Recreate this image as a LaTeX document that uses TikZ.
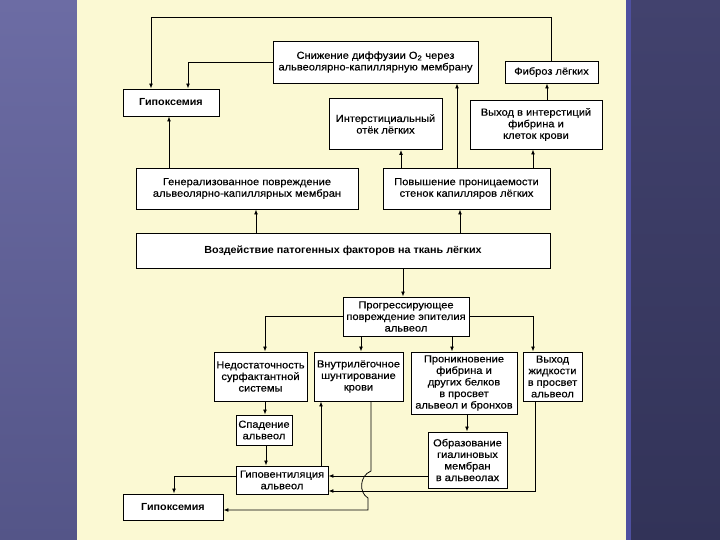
\documentclass[tikz,border=0pt]{standalone}
\usepackage{fontspec}
\setmainfont{Liberation Sans}
\newfontfamily\boxfont[FakeStretch=1.08,FakeBold=0.35]{Liberation Sans}
\newfontfamily\boxfontbold[FakeStretch=1.05]{Liberation Sans Bold}
\usetikzlibrary{arrows.meta}
\definecolor{panel}{RGB}{251,249,211}
\definecolor{bgleftT}{RGB}{108,108,164}
\definecolor{bgleftB}{RGB}{84,85,136}
\definecolor{bgrightT}{RGB}{66,66,110}
\definecolor{bgrightB}{RGB}{50,51,88}
\definecolor{stripe}{RGB}{78,80,160}
\tikzset{
  box/.style={draw=black, line width=0.9pt, fill=white, inner sep=0pt, align=center,
    font=\boxfont\fontsize{10.3}{11.6}\selectfont},
  hbox/.style={box, font=\boxfontbold\fontsize{10.3}{11.6}\selectfont},
  conn/.style={line width=0.75pt, -{Latex[length=5pt,width=3.8pt]}},
}
\begin{document}
\begin{tikzpicture}[x=1bp,y=-1bp]
\useasboundingbox (0,0) rectangle (720,540);
% background
\shade[top color=bgleftT, bottom color=bgleftB] (0,0) rectangle (78,540);
\shade[top color=bgrightT, bottom color=bgrightB] (626,0) rectangle (720,540);
\fill[stripe] (626,0) rectangle (631,540);
\fill[panel] (77,0) rectangle (626,540);

% nodes
\node[hbox, minimum width=96bp, minimum height=27bp] (hyp1) at (171,102.5) {Гипоксемия};
\node[box, minimum width=205bp, minimum height=42bp] (sniz) at (375.5,62) {Снижение диффузии O\textsubscript{2} через\\альвеолярно-капиллярную мембрану};
\node[box, minimum width=93bp, minimum height=22bp] (fib) at (551.5,72) {Фиброз лёгких};
\node[box, minimum width=113bp, minimum height=51bp] (inter) at (385.5,124) {Интерстициальный\\отёк лёгких};
\node[box, minimum width=132bp, minimum height=49bp] (vyh1) at (536,124.5) {Выход в интерстиций\\фибрина и\\клеток крови};
\node[box, minimum width=222bp, minimum height=41bp] (gen) at (247,188.5) {Генерализованное повреждение\\альвеолярно-капиллярных мембран};
\node[box, minimum width=167bp, minimum height=41bp] (pov) at (466.5,188.5) {Повышение проницаемости\\стенок капилляров лёгких};
\node[hbox, minimum width=414bp, minimum height=35bp] (vozd) at (343,250.5) {Воздействие патогенных факторов на ткань лёгких};
\node[box, minimum width=126bp, minimum height=39bp] (prog) at (406,316.5) {Прогрессирующее\\повреждение эпителия\\альвеол};
\node[box, minimum width=93bp, minimum height=49bp] (ned) at (260.5,376.5) {Недостаточность\\сурфактантной\\системы};
\node[box, minimum width=89bp, minimum height=49bp] (vnut) at (358.5,376.5) {Внутрилёгочное\\шунтирование\\крови};
\node[box, minimum width=106bp, minimum height=62bp] (pron) at (464,383) {Проникновение\\фибрина и\\других белков\\в просвет\\альвеол и бронхов};
\node[box, minimum width=59bp, minimum height=49bp] (vyhzh) at (552.5,376.5) {Выход\\жидкости\\в просвет\\альвеол};
\node[box, minimum width=56bp, minimum height=30bp] (spad) at (264,430) {Спадение\\альвеол};
\node[box, minimum width=79bp, minimum height=56bp] (obr) at (467.5,460) {Образование\\гиалиновых\\мембран\\в альвеолах};
\node[box, minimum width=92bp, minimum height=28bp] (gipov) at (282,480) {Гиповентиляция\\альвеол};
\node[hbox, minimum width=100bp, minimum height=26bp] (hyp2) at (173,507) {Гипоксемия};

% connectors - top part
\draw[conn] (fib.north) -- (551.5,17) -| (hyp1.north -| 151,0);
\draw[conn] (sniz.west) -| (hyp1.north -| 188,0);
\draw[conn] (gen.north -| 169,0) -- (hyp1.south -| 169,0);
\draw[conn] (vozd.north -| 256,0) -- (gen.south -| 256,0);
\draw[conn] (vozd.north -| 460,0) -- (pov.south -| 460,0);
\draw[conn] (pov.north -| 401,0) -- (inter.south -| 401,0);
\draw[conn] (pov.north -| 457,0) -- (sniz.south -| 457,0);
\draw[conn] (pov.north -| 533,0) -- (vyh1.south -| 533,0);
\draw[conn] (vyh1.north -| 547,0) -- (fib.south -| 547,0);
% bottom part
\draw[conn] (vozd.south -| 403,0) -- (prog.north -| 403,0);
\draw[conn] (prog.west) -| (ned.north -| 265,0);
\draw[conn] (prog.east) -| (vyhzh.north -| 533,0);
\draw[conn] (prog.south -| 361,0) -- (vnut.north -| 361,0);
\draw[conn] (prog.south -| 452,0) -- (pron.north -| 452,0);
\draw[conn] (ned.south -| 265,0) -- (spad.north -| 265,0);
\draw[conn] (spad.south -| 266,0) -- (gipov.north -| 266,0);
\draw[conn] (gipov.north -| 321,0) -- (vnut.south -| 321,0);
\draw[conn] (pron.south -| 467,0) -- (obr.north -| 467,0);
\draw[conn] (obr.west |- 0,476) -- (gipov.east |- 0,476);
\draw[conn] (vyhzh.south -| 535,0) -- (535,491) -- (gipov.east |- 0,491);
\draw[conn] (gipov.west |- 0,476) -| (hyp2.north -| 174,0);
\coordinate (hopA) at (371,471);
\coordinate (hopB) at (368,498);
\draw[conn] (vnut.south -| 371,0) -- (hopA) .. controls (359,476) and (359,493) .. (hopB) -- (368,510) -- (hyp2.east |- 0,510);
\end{tikzpicture}
\end{document}
